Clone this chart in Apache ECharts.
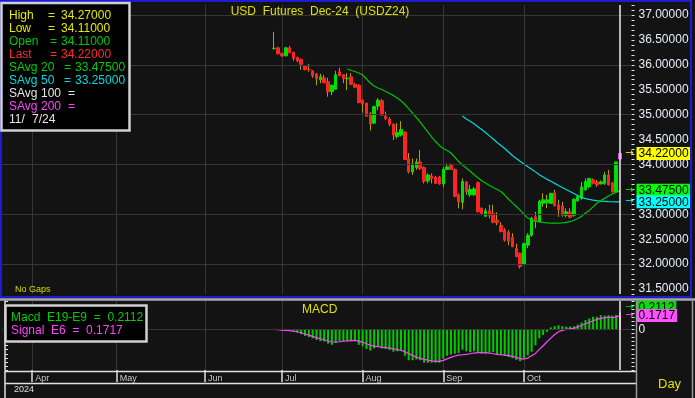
<!DOCTYPE html>
<html>
<head>
<meta charset="utf-8">
<title>USD Futures Dec-24 (USDZ24)</title>
<script src="https://cdn.jsdelivr.net/npm/echarts@6/dist/echarts.min.js"></script>
<style>
	html, body { margin: 0; padding: 0; background: #131313; }
	#chart { width: 695px; height: 398px; }
</style>
</head>
<body>
<div id="chart"></div>
<script>
// USDZ24 daily bars (No Gaps), last bar 11/7/24
let open = [
	36.33, 36.34, 36.23, 36.18, 36.34, 36.25, 36.15, 36.11, 35.98, 35.91,
	35.88, 35.82, 35.70, 35.74, 35.66, 35.46, 35.51, 35.86, 35.80, 35.72,
	35.76, 35.61, 35.59, 35.29, 35.23, 35.03, 34.83, 35.17, 35.28, 34.97,
	34.91, 34.81, 34.56, 34.59, 34.65, 34.12, 33.85, 33.94, 34.05, 33.94,
	33.67, 33.77, 33.74, 33.75, 33.61, 33.90, 33.99, 33.90, 33.39, 33.24,
	33.65, 33.39, 33.39, 33.64, 33.12, 32.96, 33.07, 33.02, 32.88, 32.78,
	32.68, 32.64, 32.54, 32.32, 32.22, 31.99, 32.38, 32.58, 32.95, 32.85,
	33.22, 33.23, 33.22, 33.43, 33.19, 33.17, 32.98, 33.05, 32.98, 33.27,
	33.32, 33.49, 33.55, 33.69, 33.65, 33.61, 33.62, 33.79, 33.63, 33.45,
	34.11,
];
let high = [
	36.66, 36.36, 36.24, 36.36, 36.38, 36.26, 36.16, 36.12, 35.99, 36.02,
	35.89, 35.83, 35.82, 35.80, 35.74, 35.60, 35.88, 35.94, 35.81, 35.83,
	35.83, 35.63, 35.61, 35.31, 35.24, 35.05, 35.18, 35.33, 35.31, 35.06,
	34.95, 34.82, 34.83, 34.87, 34.66, 34.23, 34.12, 34.12, 34.29, 33.96,
	33.82, 33.82, 33.77, 33.77, 33.95, 34.02, 34.02, 33.92, 33.42, 33.72,
	33.66, 33.59, 33.55, 33.65, 33.14, 33.12, 33.19, 33.19, 33.04, 32.84,
	32.72, 32.68, 32.62, 32.41, 32.23, 32.43, 32.62, 32.95, 33.05, 33.29,
	33.42, 33.39, 33.43, 33.49, 33.29, 33.25, 33.12, 33.12, 33.32, 33.39,
	33.65, 33.72, 33.73, 33.72, 33.69, 33.68, 33.85, 33.89, 33.65, 34.05,
	34.27,
];
let low = [
	36.30, 36.21, 36.16, 36.17, 36.24, 36.08, 36.05, 35.90, 35.89, 35.86,
	35.74, 35.59, 35.63, 35.63, 35.36, 35.39, 35.50, 35.77, 35.63, 35.49,
	35.59, 35.53, 35.23, 35.04, 34.96, 34.68, 34.81, 35.09, 34.98, 34.89,
	34.77, 34.49, 34.52, 34.56, 34.09, 33.82, 33.79, 33.89, 33.89, 33.62,
	33.62, 33.62, 33.61, 33.59, 33.54, 33.89, 33.89, 33.34, 33.12, 33.10,
	33.39, 33.35, 33.37, 33.04, 32.98, 32.95, 32.92, 32.82, 32.78, 32.64,
	32.45, 32.38, 32.34, 32.14, 31.91, 31.98, 32.32, 32.55, 32.72, 32.84,
	33.15, 33.12, 33.21, 33.16, 32.95, 32.95, 32.94, 32.92, 32.95, 33.25,
	33.29, 33.47, 33.52, 33.60, 33.55, 33.60, 33.59, 33.58, 33.43, 33.44,
	34.11,
];
let close = [
	36.33, 36.22, 36.18, 36.34, 36.24, 36.13, 36.08, 36.01, 35.90, 35.90,
	35.78, 35.72, 35.76, 35.64, 35.46, 35.59, 35.80, 35.78, 35.72, 35.73,
	35.61, 35.55, 35.24, 35.21, 34.97, 34.81, 35.16, 35.29, 34.99, 34.92,
	34.81, 34.59, 34.64, 34.70, 34.10, 33.85, 34.01, 34.05, 33.92, 33.66,
	33.79, 33.72, 33.62, 33.61, 33.90, 33.95, 33.90, 33.36, 33.25, 33.66,
	33.45, 33.50, 33.51, 33.05, 33.02, 33.07, 32.98, 32.84, 32.83, 32.65,
	32.48, 32.46, 32.35, 32.15, 31.95, 32.41, 32.58, 32.92, 32.86, 33.26,
	33.29, 33.29, 33.42, 33.17, 33.09, 32.98, 33.05, 32.94, 33.30, 33.36,
	33.55, 33.66, 33.72, 33.62, 33.59, 33.65, 33.79, 33.59, 33.45, 34.05,
	34.22,
];

// simple averages, first value sits on bar 20 / bar 50
let sma20Start = 20;
let sma20 = [
	35.916, 35.886, 35.865, 35.835, 35.795, 35.715, 35.635, 35.574, 35.534, 35.504,
	35.464, 35.430, 35.384, 35.333, 35.277, 35.203, 35.122, 35.032, 34.942, 34.851,
	34.751, 34.651, 34.550, 34.460, 34.380, 34.319, 34.279, 34.229, 34.149, 34.058,
	33.988, 33.928, 33.863, 33.797, 33.731, 33.673, 33.627, 33.576, 33.536, 33.496,
	33.456, 33.386, 33.301, 33.229, 33.155, 33.084, 33.004, 32.924, 32.884, 32.863,
	32.849, 32.837, 32.827, 32.823, 32.823, 32.823, 32.827, 32.837, 32.851, 32.880,
	32.916, 32.958, 33.024, 33.078, 33.149, 33.221, 33.275, 33.319, 33.365, 33.406,
	33.440, 33.475,
];
let sma50Start = 50;
let sma50 = [
	34.972, 34.912, 34.867, 34.815, 34.757, 34.701, 34.641, 34.574, 34.510, 34.440,
	34.380, 34.319, 34.249, 34.179, 34.118, 34.062, 34.008, 33.954, 33.904, 33.851,
	33.795, 33.747, 33.701, 33.661, 33.620, 33.576, 33.536, 33.496, 33.456, 33.416,
	33.376, 33.339, 33.315, 33.299, 33.285, 33.273, 33.265, 33.259, 33.253, 33.251,
	33.249, 33.250,
];

// MACD E19-E9 (histogram) and signal E6
let macd = [
	0.000, -0.005, -0.008, -0.010, -0.020, -0.030, -0.040, -0.060, -0.080, -0.095,
	-0.110, -0.130, -0.145, -0.150, -0.175, -0.190, -0.160, -0.145, -0.145, -0.140,
	-0.145, -0.145, -0.190, -0.210, -0.240, -0.260, -0.235, -0.210, -0.235, -0.240,
	-0.255, -0.275, -0.270, -0.260, -0.325, -0.380, -0.380, -0.370, -0.380, -0.410,
	-0.410, -0.410, -0.410, -0.410, -0.360, -0.325, -0.310, -0.300, -0.290, -0.250,
	-0.270, -0.280, -0.270, -0.285, -0.300, -0.300, -0.285, -0.280, -0.310, -0.315,
	-0.325, -0.340, -0.355, -0.375, -0.390, -0.355, -0.320, -0.275, -0.195, -0.110,
	-0.070, -0.030, 0.025, 0.040, 0.050, 0.040, 0.035, 0.035, 0.040, 0.060,
	0.085, 0.115, 0.135, 0.155, 0.155, 0.175, 0.170, 0.175, 0.170, 0.180,
	0.2112,
];
let signal = [
	0.000, -0.004, -0.008, -0.012, -0.016, -0.023, -0.029, -0.041, -0.057, -0.070,
	-0.086, -0.101, -0.115, -0.127, -0.140, -0.152, -0.156, -0.152, -0.146, -0.142,
	-0.138, -0.135, -0.144, -0.156, -0.177, -0.193, -0.205, -0.211, -0.218, -0.224,
	-0.228, -0.238, -0.250, -0.259, -0.275, -0.296, -0.320, -0.341, -0.357, -0.369,
	-0.378, -0.386, -0.394, -0.394, -0.382, -0.363, -0.345, -0.328, -0.316, -0.312,
	-0.308, -0.300, -0.291, -0.287, -0.287, -0.287, -0.291, -0.300, -0.308, -0.312,
	-0.316, -0.324, -0.332, -0.345, -0.361, -0.365, -0.353, -0.324, -0.296, -0.246,
	-0.201, -0.152, -0.107, -0.062, -0.029, -0.012, 0.000, 0.006, 0.012, 0.029,
	0.049, 0.070, 0.086, 0.107, 0.123, 0.135, 0.144, 0.148, 0.148, 0.150,
	0.1717,
];

// time scale: one slot per bar, the contract starts trading on slot 71
let slotCount = 165;
let firstSlot = 71;
let monthSlots = [8, 30, 53, 73, 94, 115, 136];
let monthLabels = ["Apr", "May", "Jun", "Jul", "Aug", "Sep", "Oct"];
let priceLines = [32, 33, 34, 35, 36, 37];

let slots = [];
for (let i = 0; i < slotCount; i++) {
	slots.push(String(i));
}

let font = "Liberation Sans";
let gridColor = "#363636";
let last = close.length - 1;
let lastSlot = firstSlot + last;
let isMonth = (i) => monthSlots.indexOf(i) >= 0;
let isHalf = (v) => Math.abs(v * 2 - Math.round(v * 2)) < 1e-6;

let wickData = open.map((o, j) => {
	let item = { value: [firstSlot + j, o, close[j], low[j], high[j]] };
	if (j === last) {
		item.itemStyle = { color: "#3434ff", color0: "#3434ff", borderColor: "#3434ff", borderColor0: "#3434ff" };
	}
	return item;
});
let bodyData = open.map((o, j) => {
	let c = close[j];
	let item = { value: [firstSlot + j, o, c, Math.min(o, c), Math.max(o, c)] };
	if (j === last) {
		item.itemStyle = { color: "#ff44ff", color0: "#ff44ff", borderColor: "#ff44ff", borderColor0: "#ff44ff" };
	}
	return item;
});
let sma20Data = sma20.map((v, j) => [firstSlot + sma20Start - 1 + j, v]);
let sma50Data = sma50.map((v, j) => [firstSlot + sma50Start - 1 + j, v]);
let macdData = macd.map((v, j) => {
	if (j === last) {
		return { value: [firstSlot + j, v], itemStyle: { color: "#ff44ff" } };
	}
	return [firstSlot + j, v];
});
let signalData = signal.map((v, j) => [firstSlot + j, v]);

let tag = function (value, digits, bg, arrow, dy) {
	return {
		yAxis: value,
		lineStyle: { color: "transparent", width: 0 },
		label: {
			show: true,
			position: "end",
			distance: -9,
			offset: [0, dy || 0],
			formatter: () => "{arr|→}{txt|" + value.toFixed(digits) + "}",
			rich: {
				arr: { color: arrow, width: 14, align: "center", fontSize: 10, fontFamily: "DejaVu Sans" },
				txt: {
					color: "#000",
					backgroundColor: bg,
					fontSize: 12,
					fontFamily: font,
					lineHeight: 12,
					padding: [1, 2, 0, 2],
				},
			},
		},
	};
};

let cursor = {
	xAxis: String(lastSlot),
	lineStyle: { color: "#eeeeee", width: 1.5, type: "solid" },
	label: { show: false },
};

let text = function (str, x, y, fill, size, align) {
	return {
		type: "text",
		x: x,
		y: y,
		z: 30,
		style: {
			text: str,
			fill: fill,
			fontSize: size || 12,
			fontFamily: font,
			verticalAlign: "middle",
			align: align || "left",
		},
	};
};

let line = function (x1, y1, x2, y2, color, width) {
	return {
		type: "line",
		z: 25,
		shape: { x1: x1, y1: y1, x2: x2, y2: y2 },
		style: { stroke: color, lineWidth: width || 1 },
	};
};

// info boxes
let infoRows = [
	["#e8e800", [["High", 9], ["=", 48], [high[last].toFixed(5), 61]]],
	["#e8e800", [["Low", 9], ["=", 48], [low[last].toFixed(5), 61]]],
	["#00c800", [["Open", 9], ["=", 50], [open[last].toFixed(5), 61]]],
	["#ff2a2a", [["Last", 9], ["=", 50], [close[last].toFixed(5), 61]]],
	["#00d000", [["SAvg", 9], ["20", 41], ["=", 64], [sma20[sma20.length - 1].toFixed(5), 75]]],
	["#00dcdc", [["SAvg", 9], ["50", 41], ["=", 64], [sma50[sma50.length - 1].toFixed(5), 75]]],
	["#e6e6e6", [["SAvg", 9], ["100", 41], ["=", 68]]],
	["#ff44ff", [["SAvg", 9], ["200", 41], ["=", 68]]],
	["#e6e6e6", [["11/", 9], ["7/24", 32]]],
];
let macdRows = [
	["#00d000", "Macd  E19-E9  =  " + macd[last].toFixed(4)],
	["#ff44ff", "Signal  E6  =  " + signal[last].toFixed(4)],
];

let graphics = [
	{
		type: "rect",
		z: 25,
		shape: { x: 1, y: 1, width: 690, height: 296 },
		style: { fill: "none", stroke: "#1c1cd4", lineWidth: 2 },
	},
	line(0, 299.5, 695, 299.5, "#aaaaaa", 2.5),
	line(5, 371.5, 636, 371.5, "#e0e0e0", 1.5),
	line(5, 383.5, 636, 383.5, "#e0e0e0", 1.5),
	line(5, 371, 5, 398, "#e0e0e0", 1.5),
	line(636.5, 301, 636.5, 398, "#9a9a9a", 1.5),
	line(692.5, 301, 692.5, 398, "#9a9a9a", 1.5),
	{
		type: "rect",
		z: 28,
		shape: { x: 1.5, y: 3, width: 128, height: 127.5 },
		style: { fill: "#000", stroke: "#d0d0d0", lineWidth: 2.5 },
	},
	{
		type: "rect",
		z: 28,
		shape: { x: 5.5, y: 305.5, width: 141, height: 36 },
		style: { fill: "#000", stroke: "#d0d0d0", lineWidth: 2.5 },
	},
	text("USD  Futures  Dec-24  (USDZ24)", 320, 12, "#e0e000", 12, "center"),
	text("MACD", 302, 310, "#e0e000", 12),
	text("No Gaps", 15, 290, "#d8d800", 9),
	text("2024", 14, 390, "#e0e0e0", 9),
	text("Day", 658, 384, "#e0e000", 13),
];
infoRows.forEach((row, i) => {
	row[1].forEach((p) => graphics.push(text(p[0], p[1], 15.7 + 13 * i, row[0])));
});
macdRows.forEach((row, i) => {
	graphics.push(text(row[1], 11, 317.2 + 13.8 * i, row[0]));
});

let chart = echarts.init(document.getElementById("chart"));

let option = {
	animation: false,
	backgroundColor: "#131313",
	grid: [
		{ left: 1.5, right: 63.5, top: 5, height: 289 },
		{ left: 1.5, right: 63.5, top: 301, height: 69 },
	],
	xAxis: [
		{
			type: "category",
			gridIndex: 0,
			data: slots,
			boundaryGap: false,
			axisLine: { show: false, onZero: false },
			axisTick: { show: false },
			axisLabel: { show: false },
			splitLine: {
				show: true,
				interval: (i) => isMonth(i),
				lineStyle: { color: gridColor, width: 1 },
			},
		},
		{
			type: "category",
			gridIndex: 1,
			data: slots,
			boundaryGap: false,
			axisLine: { show: false, onZero: false },
			axisTick: {
				show: true,
				interval: (i) => isMonth(i),
				length: 12,
				lineStyle: { color: "#e0e0e0", width: 1.5 },
			},
			axisLabel: {
				show: true,
				interval: (i) => isMonth(i),
				formatter: (v) => monthLabels[monthSlots.indexOf(Number(v))] || "",
				align: "left",
				padding: [0, 0, 0, 3],
				margin: 4,
				color: "#c8c8c8",
				fontSize: 9,
				fontFamily: font,
			},
			splitLine: {
				show: true,
				interval: (i) => isMonth(i),
				lineStyle: { color: gridColor, width: 1 },
			},
		},
	],
	yAxis: [
		{
			type: "value",
			gridIndex: 0,
			position: "right",
			min: 31.4,
			max: 37.2,
			interval: 0.1,
			axisLine: { show: false },
			axisTick: { show: true, length: 3, lineStyle: { color: "#e6e6e6" } },
			splitLine: { show: false },
			axisLabel: {
				margin: 7,
				color: "#e6ecf8",
				fontSize: 12,
				fontFamily: font,
				formatter: (v) => (isHalf(v) ? v.toFixed(5) : ""),
			},
		},
		{
			type: "value",
			gridIndex: 1,
			position: "right",
			min: -0.5,
			max: 0.35,
			interval: 0.05,
			axisLine: { show: false },
			axisTick: { show: true, length: 3, lineStyle: { color: "#e6e6e6" } },
			splitLine: { show: false },
			axisLabel: {
				margin: 7,
				color: "#e6ecf8",
				fontSize: 12,
				fontFamily: font,
				formatter: (v) => (Math.abs(v) < 1e-9 ? "0" : ""),
			},
		},
		{
			type: "value",
			gridIndex: 1,
			position: "left",
			offset: -3.5,
			min: -0.5,
			max: 0.35,
			interval: 0.05,
			axisLine: { show: true, lineStyle: { color: "#e0e0e0", width: 1.5 } },
			axisTick: { show: true, inside: true, length: 3, lineStyle: { color: "#e0e0e0" } },
			axisLabel: { show: false },
			splitLine: { show: false },
		},
	],
	series: [
		{
			name: "grid",
			type: "line",
			xAxisIndex: 0,
			yAxisIndex: 0,
			z: 1,
			data: [],
			markLine: {
				silent: true,
				symbol: ["none", "none"],
				label: { show: false },
				lineStyle: { color: gridColor, width: 1, type: "solid" },
				data: priceLines.map((v) => ({ yAxis: v })),
			},
		},
		{
			name: "wick",
			type: "candlestick",
			xAxisIndex: 0,
			yAxisIndex: 0,
			z: 2,
			barWidth: 1,
			encode: { x: 0, y: [1, 2, 3, 4] },
			itemStyle: {
				color: "#b0a000",
				color0: "#b0a000",
				borderColor: "#b0a000",
				borderColor0: "#b0a000",
				borderWidth: 1,
			},
			data: wickData,
		},
		{
			name: "USDZ24",
			type: "candlestick",
			xAxisIndex: 0,
			yAxisIndex: 0,
			z: 3,
			barWidth: 3,
			encode: { x: 0, y: [1, 2, 3, 4] },
			itemStyle: {
				color: "#00e000",
				color0: "#ff2424",
				borderColor: "#00e000",
				borderColor0: "#ff2424",
				borderWidth: 1,
			},
			data: bodyData,
		},
		{
			name: "SAvg 50",
			type: "line",
			xAxisIndex: 0,
			yAxisIndex: 0,
			z: 4,
			symbol: "none",
			lineStyle: { color: "#00d8e0", width: 1.2 },
			data: sma50Data,
		},
		{
			name: "SAvg 20",
			type: "line",
			xAxisIndex: 0,
			yAxisIndex: 0,
			z: 4,
			symbol: "none",
			lineStyle: { color: "#00c400", width: 1.2 },
			data: sma20Data,
		},
		{
			name: "tags",
			type: "line",
			xAxisIndex: 0,
			yAxisIndex: 0,
			z: 6,
			data: [],
			markLine: {
				silent: true,
				symbol: ["none", "none"],
				data: [
					cursor,
					tag(close[last], 5, "#ffff00", "#ffff00"),
					tag(sma20[sma20.length - 1], 5, "#00ff00", "#00ff00"),
					tag(sma50[sma50.length - 1], 5, "#00ffff", "#00ffff"),
				],
			},
		},
		{
			name: "Macd E19-E9",
			type: "bar",
			xAxisIndex: 1,
			yAxisIndex: 1,
			z: 3,
			barWidth: 2,
			itemStyle: { color: "#00cc00" },
			data: macdData,
			markLine: {
				silent: true,
				symbol: ["none", "none"],
				data: [
					{ yAxis: 0, lineStyle: { color: gridColor, width: 1, type: "solid" }, label: { show: false } },
				],
			},
		},
		{
			name: "Signal E6",
			type: "line",
			xAxisIndex: 1,
			yAxisIndex: 1,
			z: 4,
			symbol: "none",
			lineStyle: { color: "#ff44ff", width: 1.2 },
			data: signalData,
		},
		{
			name: "macd tags",
			type: "line",
			xAxisIndex: 1,
			yAxisIndex: 1,
			z: 6,
			data: [],
			markLine: {
				silent: true,
				symbol: ["none", "none"],
				data: [
					cursor,
					tag(macd[last], 4, "#00e000", "#00e000", -5),
					tag(signal[last], 4, "#ff50ff", "#ff50ff"),
				],
			},
		},
	],
	graphic: graphics,
};

chart.setOption(option);
</script>
</body>
</html>
